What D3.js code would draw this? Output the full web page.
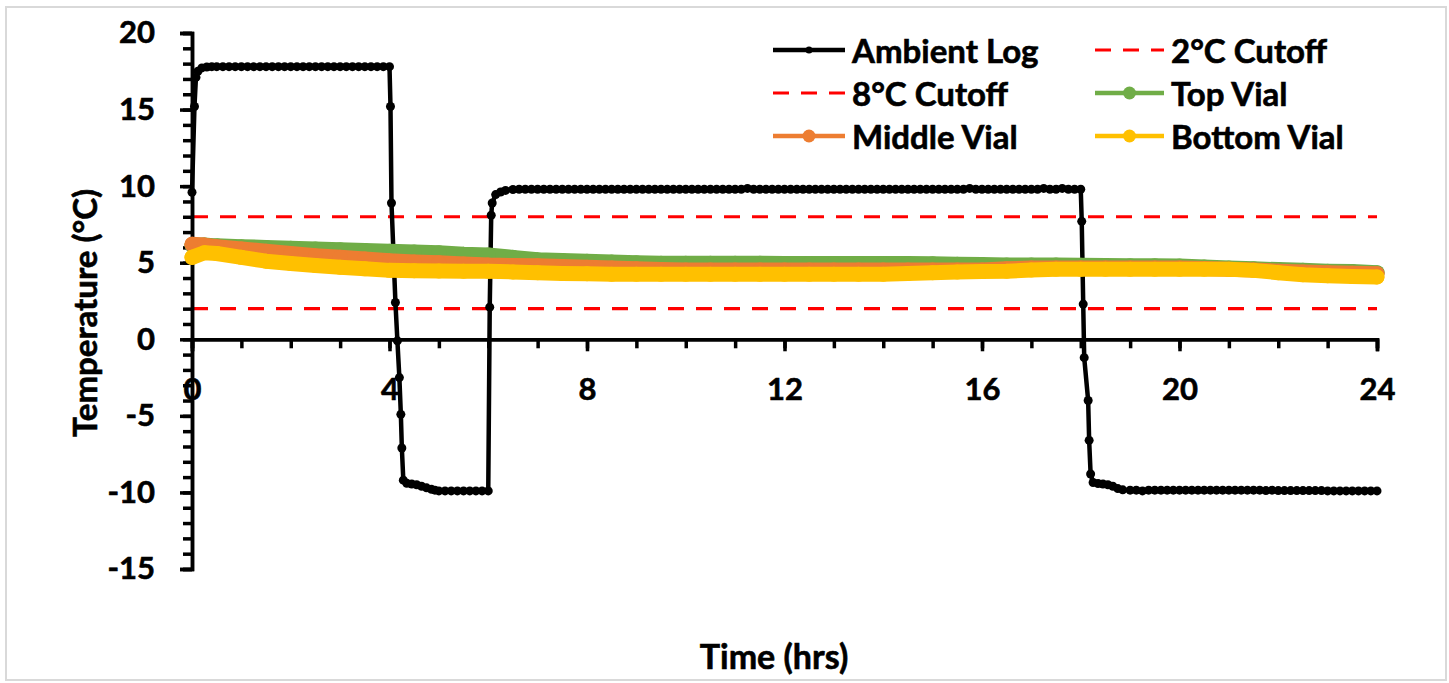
<!DOCTYPE html>
<html><head><meta charset="utf-8">
<script src="https://cdn.jsdelivr.net/npm/d3@7"></script>
<style>
html,body{margin:0;padding:0;background:#fff;}
text{font-family:Lato,"Open Sans",sans-serif;font-weight:bold;fill:#000;stroke:#000;stroke-width:0.6px;}
</style></head>
<body><svg id="chart" width="1449" height="683"></svg>
<script>
// ---- data ----
const ambientTime = [
  0,0.05,0.08,0.12,0.2,0.3,0.4,
  0.5,0.625,0.75,0.875,1,1.125,1.25,1.375,1.5,1.625,1.75,1.875,2,2.125,2.25,2.375,2.5,2.625,2.75,2.875,3,3.125,3.25,3.375,3.5,3.625,3.75,3.875,4,
  4.02,4.04,4.12,4.16,4.2,4.23,4.25,4.28,4.35,4.45,4.55,4.65,4.75,4.85,4.92,
  5,5.125,5.25,5.375,5.5,5.625,5.75,5.875,6,
  6.03,6.06,6.08,6.15,6.25,6.35,
  6.5,6.625,6.75,6.875,
  7,7.125,7.25,7.375,7.5,7.625,7.75,7.875,
  8,8.125,8.25,8.375,8.5,8.625,8.75,8.875,
  9,9.125,9.25,9.375,9.5,9.625,9.75,9.875,
  10,10.125,10.25,10.375,10.5,10.625,10.75,10.875,
  11,11.125,11.25,11.375,11.5,11.625,11.75,11.875,
  12,12.125,12.25,12.375,12.5,12.625,12.75,12.875,
  13,13.125,13.25,13.375,13.5,13.625,13.75,13.875,
  14,14.125,14.25,14.375,14.5,14.625,14.75,14.875,
  15,15.125,15.25,15.375,15.5,15.625,15.75,15.875,
  16,16.125,16.25,16.375,16.5,16.625,16.75,16.875,
  17,17.125,17.25,17.375,17.5,17.625,17.75,17.875,
  18,
  18.02,18.05,18.07,18.15,18.17,18.2,18.25,18.35,18.45,18.55,18.65,18.75,18.85,
  19,19.125,19.25,19.375,19.5,19.625,19.75,19.875,
  20,20.125,20.25,20.375,20.5,20.625,20.75,20.875,
  21,21.125,21.25,21.375,21.5,21.625,21.75,21.875,
  22,22.125,22.25,22.375,22.5,22.625,22.75,22.875,
  23,23.125,23.25,23.375,23.5,23.625,23.75,23.875,
  24];
const ambientLog = [
  9.6,15.2,17.1,17.5,17.72,17.78,17.8,
  17.8,17.8,17.8,17.8,17.8,17.8,17.8,17.8,17.8,17.8,17.8,17.8,17.8,17.8,17.8,17.8,17.8,17.8,17.8,17.8,17.8,17.8,17.8,17.8,17.8,17.8,17.8,17.8,17.8,
  15.2,8.9,2.4,-0.1,-2.5,-4.9,-7.1,-9.2,-9.4,-9.45,-9.5,-9.6,-9.7,-9.8,-9.85,
  -9.9,-9.9,-9.9,-9.9,-9.9,-9.9,-9.9,-9.9,-9.9,
  2.1,8.1,8.9,9.45,9.62,9.72,
  9.78,9.8,9.8,9.8,
  9.8,9.8,9.8,9.8,9.8,9.8,9.8,9.8,
  9.8,9.8,9.8,9.8,9.8,9.8,9.8,9.8,
  9.8,9.8,9.8,9.8,9.8,9.8,9.8,9.8,
  9.8,9.8,9.8,9.8,9.8,9.8,9.8,9.8,
  9.8,9.8,9.85,9.8,9.8,9.8,9.8,9.8,
  9.8,9.8,9.8,9.8,9.8,9.8,9.8,9.8,
  9.8,9.8,9.8,9.8,9.8,9.8,9.8,9.8,
  9.8,9.8,9.8,9.8,9.8,9.8,9.8,9.8,
  9.8,9.8,9.8,9.8,9.8,9.8,9.85,9.8,
  9.8,9.8,9.8,9.8,9.8,9.8,9.8,9.8,
  9.8,9.8,9.85,9.8,9.8,9.85,9.8,9.8,
  9.8,
  7.7,2.3,-1.2,-4.0,-6.6,-8.8,-9.35,-9.42,-9.45,-9.5,-9.6,-9.75,-9.83,
  -9.85,-9.85,-9.9,-9.85,-9.85,-9.85,-9.85,-9.85,
  -9.85,-9.85,-9.85,-9.85,-9.85,-9.85,-9.85,-9.85,
  -9.85,-9.85,-9.85,-9.85,-9.85,-9.85,-9.88,-9.85,
  -9.88,-9.88,-9.88,-9.88,-9.88,-9.88,-9.88,-9.88,
  -9.9,-9.9,-9.9,-9.9,-9.9,-9.9,-9.9,-9.9,
  -9.9];

const vialTime = [0,0.25,0.5,1,1.5,2,2.5,3,3.5,4,4.5,5,5.5,6,6.5,7,7.5,8,8.5,9,9.5,10,10.5,11,11.5,12,12.5,13,13.5,14,14.5,15,15.5,16,16.5,17,17.5,18,18.5,19,19.5,20,20.5,21,21.5,22,22.5,23,23.5,24];
const topVial = [6.15,6.15,6.1,6.05,6.0,5.95,5.9,5.85,5.8,5.75,5.7,5.65,5.55,5.5,5.35,5.2,5.15,5.1,5.05,5.0,4.97,4.97,4.97,4.97,4.97,4.95,4.95,4.95,4.95,4.95,4.95,4.93,4.9,4.88,4.85,4.85,4.85,4.83,4.82,4.8,4.8,4.78,4.72,4.65,4.6,4.55,4.5,4.45,4.42,4.35];
const middleVial = [6.2,6.15,6.05,5.9,5.75,5.6,5.45,5.35,5.25,5.13,5.05,5.0,4.92,4.85,4.82,4.8,4.75,4.7,4.65,4.6,4.55,4.52,4.52,4.52,4.52,4.52,4.52,4.52,4.52,4.52,4.52,4.52,4.52,4.52,4.6,4.65,4.65,4.65,4.65,4.65,4.65,4.65,4.62,4.58,4.52,4.45,4.4,4.35,4.32,4.28];
const bottomVial = [5.35,5.65,5.6,5.35,5.1,4.95,4.82,4.7,4.6,4.5,4.48,4.46,4.45,4.45,4.4,4.35,4.3,4.28,4.25,4.25,4.25,4.25,4.25,4.25,4.25,4.25,4.25,4.25,4.25,4.25,4.3,4.35,4.4,4.42,4.45,4.52,4.58,4.58,4.58,4.58,4.58,4.58,4.58,4.58,4.5,4.35,4.22,4.15,4.1,4.07];

const cutoffs = [2, 8];
const xTickLabels = [0,4,8,12,16,20,24];
const yTickLabels = [-15,-10,-5,0,5,10,15,20];
const seriesNames = ["Ambient Log","2°C Cutoff","8°C Cutoff","Top Vial","Middle Vial","Bottom Vial"];
const xTitle = "Time (hrs)";
const yTitle = "Temperature (°C)";

// ---- drawing ----
const svg = d3.select("#chart");
svg.append("rect").attr("x",6).attr("y",7).attr("width",1440).attr("height",673)
  .attr("fill","#fff").attr("stroke","#d9d9d9").attr("stroke-width",2);

const x = d3.scaleLinear().domain([0,24]).range([192,1377]);
const y = d3.scaleLinear().domain([-15,20]).range([569,33]);

const colors = {amb:"#000000", cut:"#ff0000", top:"#70ad47", mid:"#ed7d31", bot:"#ffc000"};

// cutoff lines
cutoffs.forEach(v=>{
  svg.append("line").attr("x1",x(0)).attr("x2",x(24)).attr("y1",y(v)).attr("y2",y(v))
    .attr("stroke",colors.cut).attr("stroke-width",3.2).attr("stroke-dasharray","16,12");
});

// axes
const fmt = d => String(d);
const yMinor = d3.axisLeft(y).tickValues(d3.range(-15,21,1)).tickSize(9).tickFormat("");
const yMajor = d3.axisLeft(y).tickValues(yTickLabels).tickSize(12).tickPadding(25).tickFormat(fmt);
const xMinor = d3.axisBottom(x).tickValues(d3.range(0,25,1)).tickSize(9).tickFormat("");
const xMajor = d3.axisBottom(x).tickValues(xTickLabels).tickSize(12).tickPadding(27).tickFormat(fmt);

function styleAxis(g){
  g.select(".domain").attr("stroke","#000").attr("stroke-width",3.5);
  g.selectAll(".tick line").attr("stroke","#000").attr("stroke-width",3.5);
  g.selectAll(".tick text").style("font-family","Lato").style("font-weight","bold").style("font-size","31px")
    .attr("fill","#000").attr("stroke","#000").attr("stroke-width",0.6);
}
const gy1 = svg.append("g").attr("transform",`translate(${x(0)},0)`).call(yMinor); styleAxis(gy1);
const gy2 = svg.append("g").attr("transform",`translate(${x(0)},0)`).call(yMajor); styleAxis(gy2);
const gx1 = svg.append("g").attr("transform",`translate(0,${y(0)})`).call(xMinor); styleAxis(gx1);
const gx2 = svg.append("g").attr("transform",`translate(0,${y(0)})`).call(xMajor); styleAxis(gx2);
gx2.selectAll(".tick text").attr("dy","0.71em");

// ambient log
const ambData = ambientTime.map((t,i)=>[t,ambientLog[i]]);
const line = d3.line().x(d=>x(d[0])).y(d=>y(d[1]));
svg.append("path").datum(ambData).attr("d",line).attr("fill","none")
  .attr("stroke",colors.amb).attr("stroke-width",4.5).attr("stroke-linejoin","round").attr("stroke-linecap","round");
svg.append("g").selectAll("circle").data(ambData).join("circle")
  .attr("cx",d=>x(d[0])).attr("cy",d=>y(d[1])).attr("r",4.5).attr("fill",colors.amb);

// vials
[[topVial,colors.top],[middleVial,colors.mid],[bottomVial,colors.bot]].forEach(([vals,c])=>{
  const data = vialTime.map((t,i)=>[t,vals[i]]);
  svg.append("path").datum(data).attr("d",line).attr("fill","none")
    .attr("stroke",c).attr("stroke-width",15).attr("stroke-linejoin","round").attr("stroke-linecap","round");
  svg.append("g").selectAll("circle").data(data).join("circle")
    .attr("cx",d=>x(d[0])).attr("cy",d=>y(d[1])).attr("r",7.5).attr("fill",c);
});

// titles
svg.append("text").attr("x",774).attr("y",655).attr("text-anchor","middle").attr("dominant-baseline","central")
  .style("font-size","34px").text(xTitle);
svg.append("text").attr("transform","translate(84,313) rotate(-90)").attr("text-anchor","middle").attr("dominant-baseline","central")
  .style("font-size","33px").text(yTitle);

// legend
const legRows = [50,93,136];
const legCols = [{x1:773,x2:845,tx:852},{x1:1095,x2:1164,tx:1171}];
const legItems = [
  {name:seriesNames[0], c:colors.amb, dash:null, r:3.5, w:4.5},
  {name:seriesNames[1], c:colors.cut, dash:"16,12", r:0, w:3.2},
  {name:seriesNames[2], c:colors.cut, dash:"16,12", r:0, w:3.2},
  {name:seriesNames[3], c:colors.top, dash:null, r:6.5, w:4.5},
  {name:seriesNames[4], c:colors.mid, dash:null, r:6.5, w:4.5},
  {name:seriesNames[5], c:colors.bot, dash:null, r:6.5, w:4.5}
];
legItems.forEach((it,i)=>{
  const col = legCols[i%2], yy = legRows[Math.floor(i/2)];
  const g = svg.append("g");
  g.append("line").attr("x1",col.x1).attr("x2",col.x2).attr("y1",yy).attr("y2",yy)
    .attr("stroke",it.c).attr("stroke-width",it.w).attr("stroke-dasharray",it.dash);
  if(it.r>0) g.append("circle").attr("cx",(col.x1+col.x2)/2).attr("cy",yy).attr("r",it.r).attr("fill",it.c);
  g.append("text").attr("x",col.tx).attr("y",yy).attr("dominant-baseline","central")
    .style("font-size","33px").text(it.name);
});
</script></body></html>
